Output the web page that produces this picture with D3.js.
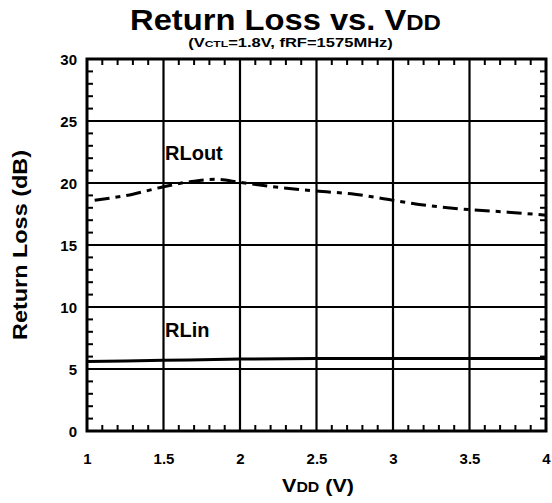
<!DOCTYPE html>
<html>
<head>
<meta charset="utf-8">
<script src="https://cdn.jsdelivr.net/npm/d3@7"></script>
<style>
  body { margin: 0; background: #fff; }
  svg { display: block; }
  svg text { font-family: "Liberation Sans", Arial, sans-serif; font-weight: bold; fill: #000; }
</style>
</head>
<body>
<svg id="chart" width="552" height="503"></svg>
<script>
// Supply voltage (V) sample points
const vddRLout = [1.05, 1.3, 1.5, 1.7, 1.85, 2.0, 2.25, 2.5, 2.75, 3.0, 3.25, 3.5, 3.75, 4.0];
const rlOut    = [18.6, 19.1, 19.7, 20.15, 20.3, 20.05, 19.65, 19.35, 19.1, 18.6, 18.15, 17.85, 17.65, 17.4];
const vddRLin  = [1.0, 1.5, 2.0, 2.5, 3.0, 3.5, 4.0];
const rlIn     = [5.6, 5.7, 5.8, 5.85, 5.85, 5.85, 5.85];

const xTicks = [1, 1.5, 2, 2.5, 3, 3.5, 4];
const xTickLabels = ["1", "1.5", "2", "2.5", "3", "3.5", "4"];
const yTicks = [0, 5, 10, 15, 20, 25, 30];

const svg = d3.select("#chart");
const plotL = 87, plotR = 546, plotT = 59, plotB = 431;

const x = d3.scaleLinear().domain([1, 4]).range([plotL, plotR]);
const y = d3.scaleLinear().domain([0, 30]).range([plotB, plotT]);

// Major gridlines
const grid = svg.append("g").attr("stroke", "#000").attr("stroke-width", 2.2);
grid.selectAll("line.v").data(xTicks.slice(1, -1)).join("line").attr("class", "v")
  .attr("x1", d => x(d)).attr("x2", d => x(d)).attr("y1", plotT).attr("y2", plotB);
grid.selectAll("line.h").data(yTicks.slice(1, -1)).join("line").attr("class", "h")
  .attr("y1", d => y(d)).attr("y2", d => y(d)).attr("x1", plotL).attr("x2", plotR);

// Minor ticks (inward) on all four sides
const xMinor = d3.range(1.1, 4, 0.1).filter(v => Math.abs(v * 2 - Math.round(v * 2)) > 1e-6);
const yMinor = d3.range(1, 30, 1).filter(v => v % 5 !== 0);
const tl = 6;
const minor = svg.append("g").attr("stroke", "#000").attr("stroke-width", 2);
xMinor.forEach(v => {
  minor.append("line").attr("x1", x(v)).attr("x2", x(v)).attr("y1", plotB).attr("y2", plotB - tl);
  minor.append("line").attr("x1", x(v)).attr("x2", x(v)).attr("y1", plotT).attr("y2", plotT + tl);
});
yMinor.forEach(v => {
  minor.append("line").attr("y1", y(v)).attr("y2", y(v)).attr("x1", plotL).attr("x2", plotL + tl);
  minor.append("line").attr("y1", y(v)).attr("y2", y(v)).attr("x1", plotR).attr("x2", plotR - tl);
});

// Axes (labels only; frame drawn separately)
const xAxis = d3.axisBottom(x).tickValues(xTicks).tickFormat((d, i) => xTickLabels[i]).tickSize(0).tickPadding(0);
const gx = svg.append("g").attr("transform", `translate(0,${plotB + 33})`).call(xAxis);
gx.attr("font-family", null).attr("font-size", null);
gx.select(".domain").remove();
gx.selectAll("text").attr("font-size", 15).attr("dy", null);

const yAxis = d3.axisLeft(y).tickValues(yTicks).tickSize(0).tickPadding(10);
const gy = svg.append("g").attr("transform", `translate(${plotL},0)`).call(yAxis);
gy.attr("font-family", null).attr("font-size", null);
gy.select(".domain").remove();
gy.selectAll("text").attr("font-size", 15).attr("dy", "0.36em");

// Curves
const line = d3.line().x(d => x(d[0])).y(d => y(d[1])).curve(d3.curveMonotoneX);
svg.append("path").datum(vddRLout.map((v, i) => [v, rlOut[i]]))
  .attr("d", line).attr("fill", "none").attr("stroke", "#000").attr("stroke-width", 3)
  .attr("stroke-dasharray", "15,6,5,6");
svg.append("path").datum(vddRLin.map((v, i) => [v, rlIn[i]]))
  .attr("d", line).attr("fill", "none").attr("stroke", "#000").attr("stroke-width", 3);

// Frame
svg.append("rect").attr("x", plotL).attr("y", plotT).attr("width", plotR - plotL).attr("height", plotB - plotT)
  .attr("fill", "none").attr("stroke", "#000").attr("stroke-width", 3);

// Series labels
svg.append("text").attr("x", 165).attr("y", 160).attr("font-size", 20).text("RLout");
svg.append("text").attr("x", 165).attr("y", 337).attr("font-size", 20).text("RLin");

// Stretch a text horizontally to a given width, keeping its centre
function fitWidth(sel, cx, w) {
  const b = sel.node().getBBox();
  const k = w / b.width;
  sel.attr("transform", `translate(${cx},0) scale(${k},1) translate(${-cx},0)`);
}

// Titles
const t = svg.append("text").attr("x", 285.5).attr("y", 30).attr("text-anchor", "middle").attr("font-size", 30);
t.append("tspan").text("Return Loss vs. V");
t.append("tspan").attr("font-size", 22).text("DD");
fitWidth(t, 285.5, 311);

const st = svg.append("text").attr("x", 290.5).attr("y", 47.5).attr("text-anchor", "middle").attr("font-size", 13);
st.append("tspan").text("(V");
st.append("tspan").attr("font-size", 9.5).text("CTL");
st.append("tspan").text("=1.8V, fRF=1575MHz)");
fitWidth(st, 290.5, 205);

const xl = svg.append("text").attr("x", 318).attr("y", 492).attr("text-anchor", "middle").attr("font-size", 19);
xl.append("tspan").text("V");
xl.append("tspan").attr("font-size", 14).text("DD");
xl.append("tspan").text(" (V)");
fitWidth(xl, 318, 72);

svg.append("text").attr("transform", "translate(27,245) rotate(-90)").attr("text-anchor", "middle")
  .attr("font-size", 20).attr("textLength", 190).attr("lengthAdjust", "spacingAndGlyphs")
  .text("Return Loss (dB)");
</script>
</body>
</html>
